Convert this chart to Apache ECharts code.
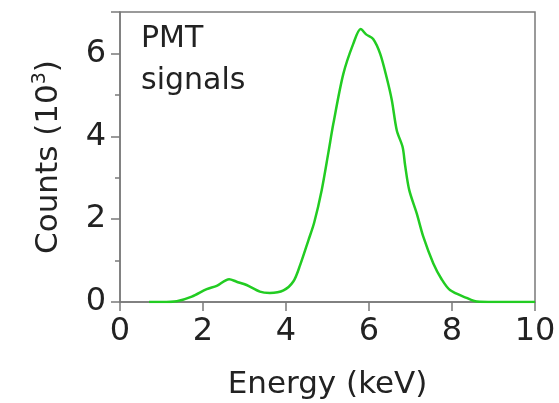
<!DOCTYPE html>
<html>
<head>
<meta charset="utf-8">
<script src="https://cdn.jsdelivr.net/npm/echarts@6/dist/echarts.min.js"></script>
<style>
  html, body { margin: 0; padding: 0; background: #fff; }
  #chart { width: 559px; height: 403px; }
</style>
</head>
<body>
<div id="chart"></div>
<script>
// Energy spectrum of PMT signals
const energyKeV = [0.7, 1.0, 1.37, 1.73, 2.09, 2.33, 2.63, 2.81, 3.05, 3.37, 3.61, 3.94, 4.18, 4.34, 4.54, 4.68, 4.86, 5.02, 5.14, 5.38, 5.62, 5.80, 5.93, 6.10, 6.27, 6.43, 6.55, 6.67, 6.81, 6.87, 6.97, 7.15, 7.31, 7.55, 7.75, 7.95, 8.35, 8.6, 9.0, 10.0];
const countsK  = [0.0, 0.0, 0.02, 0.13, 0.31, 0.39, 0.55, 0.49, 0.41, 0.25, 0.22, 0.28, 0.50, 0.89, 1.49, 1.92, 2.70, 3.60, 4.30, 5.50, 6.23, 6.59, 6.46, 6.35, 5.99, 5.40, 4.87, 4.14, 3.74, 3.30, 2.70, 2.14, 1.57, 0.93, 0.55, 0.29, 0.10, 0.01, 0.0, 0.0];
const xTicks = [0, 2, 4, 6, 8, 10];
const yTicks = [0, 2, 4, 6];

const FONT = 'DejaVu Sans';
const AXIS_GRAY = '#7a7a7a';

const chart = echarts.init(document.getElementById('chart'), null, { renderer: 'canvas' });

chart.setOption({
  animation: false,
  backgroundColor: '#fff',
  grid: {
    left: 120, right: 24, top: 12, bottom: 101,
    outerBoundsMode: 'none',
    containLabel: false,
    show: true, borderColor: AXIS_GRAY, borderWidth: 1.5, backgroundColor: 'transparent'
  },
  textStyle: { fontFamily: FONT },
  xAxis: {
    type: 'value',
    min: xTicks[0], max: xTicks[xTicks.length - 1], interval: 2,
    name: 'Energy (keV)',
    nameLocation: 'middle',
    nameGap: 67,
    nameTextStyle: { fontFamily: FONT, fontSize: 31, color: '#222' },
    axisLine: { show: true, lineStyle: { color: AXIS_GRAY, width: 1.5 } },
    axisTick: { show: true, inside: false, length: 9, lineStyle: { color: AXIS_GRAY, width: 1.5 } },
    axisLabel: { fontFamily: FONT, fontSize: 32, color: '#222', margin: 14 },
    splitLine: { show: false }
  },
  yAxis: {
    type: 'value',
    min: 0, max: 7, interval: 2,
    name: 'Counts (10{sup|3})',
    nameLocation: 'middle',
    nameGap: 54,
    nameTextStyle: {
      fontFamily: FONT, fontSize: 31, color: '#222',
      rich: { sup: { fontFamily: FONT, fontSize: 19, color: '#222', verticalAlign: 'top', padding: [0, 0, 16, 0] } }
    },
    axisLine: { show: true, lineStyle: { color: AXIS_GRAY, width: 1.5 } },
    axisTick: { show: true, inside: false, length: 9, lineStyle: { color: AXIS_GRAY, width: 1.5 } },
    minorTick: { show: true, splitNumber: 2, length: 5, lineStyle: { color: AXIS_GRAY, width: 1.5 } },
    axisLabel: {
      fontFamily: FONT, fontSize: 32, color: '#222', margin: 14,
      formatter: v => (yTicks.includes(v) ? String(v) : '')
    },
    splitLine: { show: false }
  },
  graphic: [{
    type: 'text',
    left: 141, top: 18,
    style: { text: 'PMT\nsignals', fontFamily: FONT, fontSize: 30, lineHeight: 42, fill: '#222' }
  }],
  series: [{
    type: 'line',
    data: energyKeV.map((e, i) => [e, countsK[i]]),
    showSymbol: false,
    smooth: 0.3,
    lineStyle: { color: '#22cc22', width: 2.5 },
    clip: true
  }]
});
</script>
</body>
</html>
